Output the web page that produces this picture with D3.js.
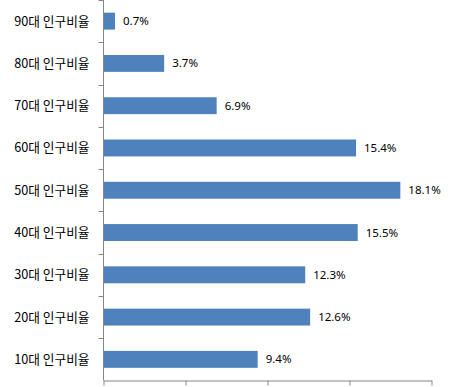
<!DOCTYPE html>
<html>
<head>
<meta charset="utf-8">
<script src="https://cdn.jsdelivr.net/npm/d3@7"></script>
<style>
  body { margin: 0; background: #fff; }
</style>
</head>
<body>
<div id="chart"></div>
<script>
// data, top to bottom
var categories = ["90대 인구비율", "80대 인구비율", "70대 인구비율", "60대 인구비율", "50대 인구비율",
                  "40대 인구비율", "30대 인구비율", "20대 인구비율", "10대 인구비율"];
var values = [0.7, 3.7, 6.9, 15.4, 18.1, 15.5, 12.3, 12.6, 9.4];
var xTicks = [0, 5, 10, 15, 20];

var w = 459;
var h = 387;
// plot area edges (note: "top" is reserved on window, so use other names)
var plotLeft = 103.5, plotRight = 431.5, plotTop = 0, plotBottom = 380.5;
var axisColor = "#868686";

var svg = d3.select("#chart")
            .append("svg")
            .attr("width", w)
            .attr("height", h);

var x = d3.scaleLinear().domain([0, 20]).range([plotLeft, plotRight]);
var y = d3.scaleBand()
          .domain(categories)
          .range([plotTop, plotBottom])
          .paddingInner(0.6)
          .paddingOuter(0.3);

// bars
svg.selectAll("rect")
   .data(values)
   .enter()
   .append("rect")
   .attr("x", x(0))
   .attr("y", function(d, i) { return y(categories[i]); })
   .attr("width", function(d) { return x(d) - x(0); })
   .attr("height", y.bandwidth())
   .attr("fill", "#4F81BD");

// value labels
svg.selectAll("text.val")
   .data(values)
   .enter()
   .append("text")
   .attr("class", "val")
   .text(function(d) { return d.toFixed(1) + "%"; })
   .attr("x", function(d) { return x(d) + 8; })
   .attr("y", function(d, i) { return y(categories[i]) + y.bandwidth() / 2; })
   .attr("dy", "0.35em")
   .attr("font-family", "'Noto Sans', sans-serif")
   .attr("font-size", "11.5px")
   .attr("fill", "#000");

// category labels
svg.selectAll("text.cat")
   .data(categories)
   .enter()
   .append("text")
   .attr("class", "cat")
   .text(function(d) { return d; })
   .attr("x", plotLeft - 14)
   .attr("y", function(d) { return y(d) + y.bandwidth() / 2; })
   .attr("dy", "0.35em")
   .attr("text-anchor", "end")
   .attr("font-family", "'Noto Sans CJK KR', sans-serif")
   .attr("font-size", "12.7px")
   .attr("fill", "#000");

// bottom axis
var xAxis = d3.axisBottom(x).tickValues(xTicks).tickSize(5).tickSizeOuter(0).tickFormat("");
var gx = svg.append("g")
   .attr("transform", "translate(0," + plotBottom + ")")
   .call(xAxis);
gx.selectAll("path, line").attr("stroke", axisColor);

// left axis line and ticks at band boundaries
svg.append("line")
   .attr("x1", plotLeft).attr("x2", plotLeft)
   .attr("y1", plotTop).attr("y2", plotBottom)
   .attr("stroke", axisColor);

var bounds = categories.map(function(c) { return y(c) - y.step() * 0.3; });
svg.selectAll("line.ytick")
   .data(bounds)
   .enter()
   .append("line")
   .attr("class", "ytick")
   .attr("x1", plotLeft - 5).attr("x2", plotLeft)
   .attr("y1", function(d) { return Math.round(d) + 0.5; })
   .attr("y2", function(d) { return Math.round(d) + 0.5; })
   .attr("stroke", axisColor);
</script>
</body>
</html>
